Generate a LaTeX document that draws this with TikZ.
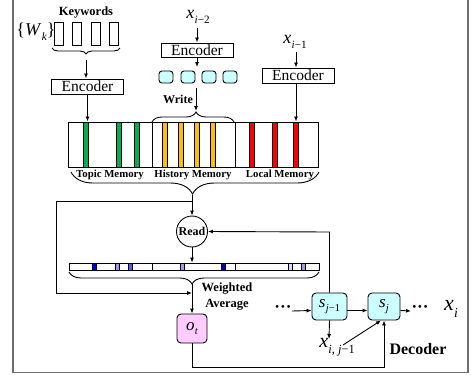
\documentclass[tikz,border=0pt]{standalone}
\usepackage{fontspec}
\setmainfont{Liberation Serif}
\usetikzlibrary{arrows.meta,decorations.pathreplacing}
\definecolor{framec}{RGB}{110,110,110}
\definecolor{cyanf}{RGB}{204,255,255}
\definecolor{pinkf}{RGB}{255,204,255}
\definecolor{gbar}{RGB}{0,176,80}
\definecolor{ybar}{RGB}{255,192,0}
\definecolor{rbar}{RGB}{255,0,0}
\definecolor{bdark}{RGB}{0,0,210}
\definecolor{bmid}{RGB}{90,90,235}
\definecolor{blight}{RGB}{155,155,250}
\definecolor{bvlight}{RGB}{215,215,255}
\newcommand\subx[2]{\textit{#1}\kern0.3pt\raisebox{-0.28em}{\scalebox{0.62}{#2}}}
\begin{document}
\begin{tikzpicture}[x=1pt,y=-1pt,line width=0.9pt,
  arr/.style={-{Latex[length=5pt,width=4pt]}},
  encbox/.style={draw,line width=1pt,minimum width=72pt,minimum height=15pt,inner sep=0pt,font=\fontsize{15.5}{15}\selectfont},
  kwbox/.style={draw,line width=0.9pt,minimum width=9pt,minimum height=23pt,inner sep=0pt},
  cybox/.style={draw,fill=cyanf,rounded corners=3pt,minimum width=14pt,minimum height=12pt,inner sep=0pt},
  lbl/.style={font=\bfseries\fontsize{12.5}{13}\selectfont,inner sep=0pt},
  memlbl/.style={font=\bfseries\fontsize{10.8}{11}\selectfont,inner sep=0pt},
  mathlbl/.style={font=\fontsize{18}{18}\selectfont,inner sep=0pt},
  decbox/.style={draw,rounded corners=4pt,inner sep=0pt,font=\fontsize{17}{17}\selectfont},
  dots/.style={inner sep=0pt,font=\bfseries\fontsize{17}{17}\selectfont},
  brc/.style={decorate,decoration={brace,amplitude=#1}},
  bar/.style={draw,line width=0.6pt}]
\useasboundingbox (0,0) rectangle (471,378);
% frame
\draw[framec,line width=1.2pt] (13,0) -- (13,372.5) -- (468,372.5) -- (468,0);

% keywords
\node[lbl] (kw) at (86,13) {Keywords};
\node[mathlbl] (wk) at (36,32) {\{\subx{W}{\textit{k}}\}};
\node[kwbox] (k1) at (58.5,33.5) {};
\node[kwbox] (k2) at (77,33.5) {};
\node[kwbox] (k3) at (95.5,33.5) {};
\node[kwbox] (k4) at (114,33.5) {};
\draw[brc=6pt,decoration={mirror}] (52,48) -- (120,48);
\coordinate (b1) at (86,60);
\node[encbox] (enc1) at (87.5,86.5) {Encoder};
\draw[arr] (b1) -- (b1 |- enc1.north);

% history encoder
\node[mathlbl] (xm2) at (198,17) {\subx{x}{\textit{i}−2}};
\node[encbox,minimum height=14pt] (enc2) at (197,50) {Encoder};
\coordinate (x2a) at (197,28);
\draw[arr] (x2a) -- (x2a |- enc2.north);
\node[cybox] (c1) at (166,77) {};
\node[cybox] (c2) at (188,77) {};
\node[cybox] (c3) at (209,77) {};
\node[cybox] (c4) at (230,77) {};
\coordinate (e2b) at (197,67);
\draw[arr] (enc2.south) -- (e2b);
\node[lbl,font=\bfseries\fontsize{12}{12}\selectfont] (wr) at (178,99) {Write};
\coordinate (wa) at (196,88);
\coordinate (wb) at (196,111);
\draw[arr] (wa) -- (wb);

% local encoder
\node[mathlbl] (xm1) at (295,42) {\subx{x}{\textit{i}−1}};
\node[encbox] (enc3) at (298,75.5) {Encoder};
\coordinate (x1a) at (296,52);
\draw[arr] (x1a) -- (x1a |- enc3.north);

% memory
\node[draw,line width=1pt,minimum width=250pt,minimum height=45pt,inner sep=0pt] (mem) at (193,144.5) {};
\draw[line width=1pt] (152,122) -- (152,167) (235,122) -- (235,167);
\draw[arr] (enc1.south) -- (enc1.south |- mem.north);
\draw[arr] (x1a |- enc3.south) -- (x1a |- mem.north);
\draw[brc=10pt,decoration={aspect=0.537}] (152,122) -- (234,122);
\foreach \x in {83.5,116,134} \draw[bar,fill=gbar] (\x,122) rectangle ++(5,45);
\foreach \x in {162,178,194,210} \draw[bar,fill=ybar] (\x,122) rectangle ++(5,45);
\foreach \x in {249,272,293} \draw[bar,fill=rbar] (\x,122) rectangle ++(5,45);
\node[memlbl] (tm) at (110,175) {Topic Memory};
\node[memlbl] (hm) at (193,175) {History Memory};
\node[memlbl] (lm) at (280,175) {Local Memory};
\draw[brc=22pt,decoration={mirror,aspect=0.49}] (71,172) -- (319,172);
\coordinate (b2) at (192,195);
\coordinate (j1) at (192,201);

% read
\node[draw,circle,minimum size=31pt,inner sep=0pt,font=\bfseries\fontsize{12}{12}\selectfont] (read) at (192,231.5) {Read};
\draw[arr] (b2) -- (read.north);

% weight bar
\node[draw,line width=0.9pt,minimum width=250pt,minimum height=7pt,inner sep=0pt] (wbar) at (194,266.5) {};
\draw[arr] (read.south) -- (read.south |- wbar.north);
\draw (152,263) -- (152,270) (235,263) -- (235,270);
\foreach \x/\c in {92/bdark,115/blight,128/bmid,180/blight,221/bdark,288/bvlight,301/blight}
  \draw[bar,fill=\c] (\x,263) rectangle ++(4.5,7);
\draw[brc=12pt,decoration={mirror,aspect=0.492}] (69,272) -- (319,272);
\coordinate (b3) at (192,284);
\node[lbl,align=center,font=\bfseries\fontsize{12.5}{16}\selectfont] (wavg) at (227,297) {Weighted\\Average};

% output
\node[decbox,fill=pinkf,minimum width=30pt,minimum height=29pt] (ot) at (192,328.5) {\subx{o}{\textit{t}}};
\draw[arr] (b3) -- (ot.north);
\coordinate (j2) at (192,293);
\draw[arr] (j1) -- (56,201) -- (56,293) -- (j2);

% decoder
\node[decbox,fill=cyanf,minimum width=35pt,minimum height=27pt] (sj1) at (329.5,306.5) {\subx{s}{\textit{j}−1}};
\node[decbox,fill=cyanf,minimum width=32pt,minimum height=27pt] (sj) at (384,306.5) {\subx{s}{\textit{j}}};
\node[dots] (dl) at (283,309) {···};
\node[dots] (dr) at (420,309) {···};
\node[inner sep=0pt,font=\fontsize{22}{22}\selectfont] (xi) at (451,309) {\subx{x}{\textit{i}}};
\draw[arr] (dl.east |- 0,311) -- ([yshift=-4pt]sj1.west);
\draw[arr] ([yshift=-4pt]sj1.east) -- ([yshift=-4pt]sj.west);
\draw[arr] ([yshift=-4pt]sj.east) -- (dr.west |- 0,311);
\node[inner sep=0pt,font=\fontsize{20}{20}\selectfont] (xij) at (337,347) {\subx{x}{\textit{i}, \textit{j}−1}};
\draw[arr] (sj1.south) -- (329,339);
\draw[arr] (343,345) -- ([xshift=-3pt]sj.south);
\node[lbl,font=\bfseries\fontsize{16}{16}\selectfont] (dec) at (418,349) {Decoder};
\draw[arr] (sj1.north) -- (329.5,232) -- (read.east);
\draw[arr] (ot.south) -- (192,367) -- (384,367) -- (sj.south);
\end{tikzpicture}
\end{document}
